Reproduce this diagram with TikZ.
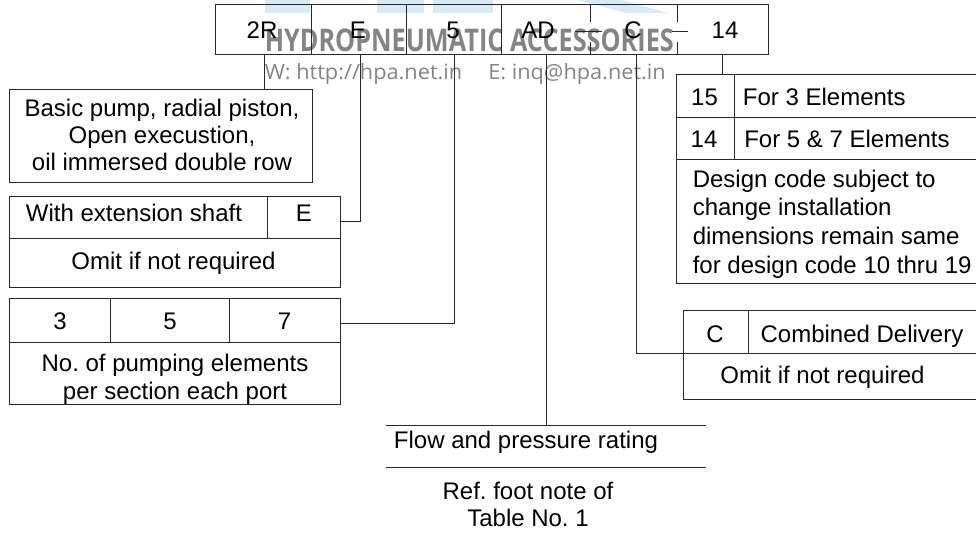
\documentclass[tikz,border=0pt]{standalone}
\usepackage{fontspec}
\setmainfont{Liberation Sans}
\newfontfamily\wmfont{Open Sans}
\frenchspacing
\definecolor{logoblue}{RGB}{214,235,245}
\definecolor{wmgray}{RGB}{132,132,132}
\definecolor{linecol}{RGB}{40,40,40}
\tikzset{
  box/.style={draw=linecol, line width=0.75pt},
  conn/.style={draw=linecol, line width=0.75pt},
  lbl/.style={font=\fontsize{18}{20}\selectfont, inner sep=0pt, anchor=base},
  lblw/.style={lbl, anchor=base west},
  multi/.style={inner sep=0pt, align=center},
}
\begin{document}
\frenchspacing
\begin{tikzpicture}[x=0.75pt,y=-0.75pt]
\useasboundingbox (0,0) rectangle (976,537);
\clip (0,0) rectangle (976,537);
% faint logo fragments
\fill[logoblue] (265,0) rectangle (310,13);
\fill[logoblue] (377,0) rectangle (424,13);
\fill[logoblue] (433,0) rectangle (493,13);
\fill[logoblue] (578,0) -- (622,0) -- (668,13) -- (626,13) -- cycle;
% watermark
\node[anchor=base west, inner sep=0pt, text=wmgray] (wm1) at (264.5,51)
  {\resizebox{306.75pt}{17pt}{\wmfont\bfseries HYDROPNEUMATIC ACCESSORIES}};
\node[anchor=base west, inner sep=0pt, text=wmgray] (wm2) at (264.5,79)
  {\resizebox{300.75pt}{12pt}{\wmfont W: http://hpa.net.in\hspace{1.2em}E: inq@hpa.net.in}};
% top code row
\draw[box] (215,4.5) rectangle (768,54);
\draw[box] (311,4.5) -- (311,54);
\draw[box] (406,4.5) -- (406,54);
\draw[box] (501,4.5) -- (501,54);
\draw[box] (590,4.5) -- (590,22) (590,42) -- (590,54);
\draw[box] (575,31) -- (602,31);
\draw[box] (677,4.5) -- (677,22) (677,42) -- (677,54);
\draw[box] (672,31) -- (688,31);
\node[lbl] (c2R) at (262,38.5) {2R};
\node[lbl] (cE)  at (358,38.5) {E};
\node[lbl] (c5)  at (453,38.5) {5};
\node[lbl] (cAD) at (538,38.5) {AD};
\node[lbl] (cC)  at (633,38.5) {C};
\node[lbl] (c14) at (725,38.5) {14};
\coordinate (p2R) at (264.5,54);
\coordinate (pE)  at (360.5,54);
\coordinate (p5)  at (454,54);
\coordinate (pAD) at (546,54);
\coordinate (pC)  at (636,54);
\coordinate (p14) at (722,54);
% basic pump box
\draw[box] (9,89) rectangle (312,182);
\coordinate (basicTop) at (264.5,89);
\node[multi, font=\fontsize{18}{20.25}\selectfont] (basic) at (162,135)
  {Basic pump, radial piston,\\Open execustion,\\oil immersed double row};
% extension shaft box
\draw[box] (9,196) rectangle (340,287);
\draw[box] (9,238.3) -- (340,238.3);
\draw[box] (267,196) -- (267,238.3);
\coordinate (extR) at (340,221);
\node[lbl] (ext) at (134,221) {With extension shaft};
\node[lbl] (extE) at (304,221) {E};
\node[lbl] (extOmit) at (173.5,269) {Omit if not required};
% elements box
\draw[box] (9,298) rectangle (340,404);
\draw[box] (9,342) -- (340,342);
\draw[box] (110,298) -- (110,342);
\draw[box] (229,298) -- (229,342);
\coordinate (elR) at (340,323.3);
\node[lbl] (el3) at (60,329) {3};
\node[lbl] (el5) at (170,329) {5};
\node[lbl] (el7) at (284.5,329) {7};
\node[multi, font=\fontsize{18}{21}\selectfont] (elText) at (175,378.8)
  {No. of pumping elements\\per section each port};
% flow box
\draw[box] (386,425) -- (706,425);
\draw[box] (386,467.7) -- (706,467.7);
\coordinate (flowTop) at (546,425);
\node[lbl] (flow) at (526,448.5) {Flow and pressure rating};
\node[multi, font=\fontsize{18}{20.25}\selectfont] (flowRef) at (528,504.3)
  {Ref. foot note of\\Table No. 1};
% C box
\draw[box] (990,310) -- (683,310) -- (683,399) -- (990,399);
\draw[box] (683,353.3) -- (990,353.3);
\draw[box] (748.3,310) -- (748.3,353.3);
\coordinate (cboxL) at (683,353.3);
\node[lbl] (cboxC) at (715,342.5) {C};
\node[lbl] (cboxT) at (862,342.5) {Combined Delivery};
\node[lbl] (cboxOmit) at (822.5,383.5) {Omit if not required};
% design code box
\draw[box] (990,74.3) -- (676,74.3) -- (676,283.3) -- (990,283.3);
\draw[box] (676,117.3) -- (990,117.3);
\draw[box] (676,159.3) -- (990,159.3);
\draw[box] (734,74.3) -- (734,159.3);
\coordinate (dTop) at (722,74.3);
\node[lbl] (d15) at (704.5,105) {15};
\node[lblw] (d15t) at (742.7,105) {For 3 Elements};
\node[lbl] (d14) at (704,147.3) {14};
\node[lblw] (d14t) at (744,147.3) {For 5 \& 7 Elements};
\node[inner sep=0pt, align=left, anchor=north west, font=\fontsize{18}{21.5}\selectfont] (design) at (692.5,169.5)
  {Design code subject to\\change installation\\dimensions remain same\\for design code 10 thru 19};
% connectors
\draw[conn] (p2R) -- (basicTop);
\draw[conn] (pE) |- (extR);
\draw[conn] (p5) |- (elR);
\draw[conn] (pAD) -- (flowTop);
\draw[conn] (pC) |- (cboxL);
\draw[conn] (p14) -- (dTop);
\end{tikzpicture}
\end{document}
